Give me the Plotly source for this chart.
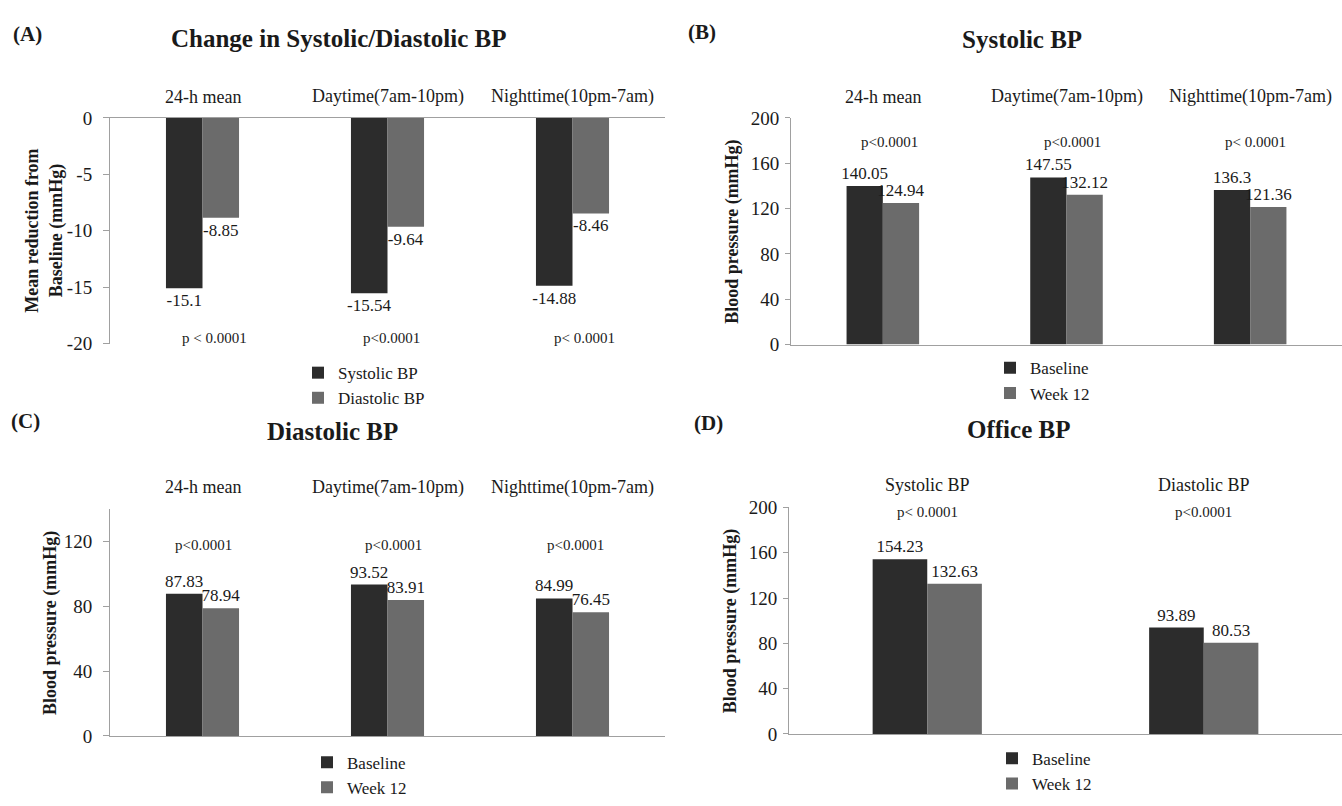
import plotly.graph_objects as go

# ---------------- data ----------------
amb_categories = ["24-h mean", "Daytime(7am-10pm)", "Nighttime(10pm-7am)"]
office_categories = ["Systolic BP", "Diastolic BP"]

change_systolic = [-15.1, -15.54, -14.88]
change_diastolic = [-8.85, -9.64, -8.46]

sbp_baseline = [140.05, 147.55, 136.3]
sbp_week12 = [124.94, 132.12, 121.36]

dbp_baseline = [87.83, 93.52, 84.99]
dbp_week12 = [78.94, 83.91, 76.45]

office_baseline = [154.23, 93.89]
office_week12 = [132.63, 80.53]

p_text_a = ["p < 0.0001", "p<0.0001", "p< 0.0001"]
p_text_b = ["p<0.0001", "p<0.0001", "p< 0.0001"]
p_text_c = ["p<0.0001", "p<0.0001", "p<0.0001"]
p_text_d = ["p< 0.0001", "p<0.0001"]

ticks_a = [0, -5, -10, -15, -20]
ticks_bd = [0, 40, 80, 120, 160, 200]
ticks_c = [0, 40, 80, 120]

# ---------------- style ----------------
W, H = 1342, 806
SERIF = "Liberation Serif, Times New Roman, serif"
TXT = "#1a1a1a"
DARK = "#2c2c2c"
GRAY = "#6b6b6b"
AXC = "#a0a0a0"


def px(v):
    return v / W


def py(v):
    return 1 - v / H


def bar(x, y, name, color, xa, ya, legend):
    return go.Bar(
        x=x, y=y, name=name, marker=dict(color=color, line=dict(width=0)),
        text=[str(v) for v in y], textposition="outside",
        textfont=dict(family=SERIF, size=17, color=TXT),
        constraintext="none", cliponaxis=False,
        xaxis=xa, yaxis=ya, legend=legend,
    )


fig = go.Figure()
fig.add_trace(bar(amb_categories, change_systolic, "Systolic BP", DARK, "x", "y", "legend"))
fig.add_trace(bar(amb_categories, change_diastolic, "Diastolic BP", GRAY, "x", "y", "legend"))
fig.add_trace(bar(amb_categories, sbp_baseline, "Baseline", DARK, "x2", "y2", "legend2"))
fig.add_trace(bar(amb_categories, sbp_week12, "Week 12", GRAY, "x2", "y2", "legend2"))
fig.add_trace(bar(amb_categories, dbp_baseline, "Baseline", DARK, "x3", "y3", "legend3"))
fig.add_trace(bar(amb_categories, dbp_week12, "Week 12", GRAY, "x3", "y3", "legend3"))
fig.add_trace(bar(office_categories, office_baseline, "Baseline", DARK, "x4", "y4", "legend4"))
fig.add_trace(bar(office_categories, office_week12, "Week 12", GRAY, "x4", "y4", "legend4"))

tickfont = dict(family=SERIF, size=19, color=TXT)


def xax(domain, anchor, side="bottom"):
    return dict(domain=domain, anchor=anchor, side=side, showline=True, linecolor=AXC,
                linewidth=1, showticklabels=False, ticks="", showgrid=False,
                zeroline=False, fixedrange=True)


def yax(domain, anchor, rng, tv, ticklen=5, standoff=2):
    return dict(domain=domain, anchor=anchor, range=rng, tickvals=tv,
                ticktext=[str(v) for v in tv], showline=True,
                linecolor=AXC, linewidth=1, ticks="outside", ticklen=ticklen,
                tickcolor=AXC, ticklabelstandoff=standoff,
                tickfont=tickfont, showgrid=False, zeroline=False, fixedrange=True)


dom_xa = [px(110), px(665)]
dom_xb = [px(791), 1.0]
dom_xd = [px(789), 1.0]

fig.update_layout(
    width=W, height=H, margin=dict(l=0, r=0, t=0, b=0),
    paper_bgcolor="white", plot_bgcolor="white",
    barmode="group", bargap=0.605, bargroupgap=0,
    font=dict(family=SERIF, color=TXT),
    xaxis=xax(dom_xa, "y", side="top"),
    yaxis=yax([py(346), py(112)], "x", [-20, 0], ticks_a, ticklen=6, standoff=7),
    xaxis2=xax(dom_xb, "y2"),
    yaxis2=yax([py(347), py(112)], "x2", [0, 200], ticks_bd),
    xaxis3=xax(dom_xa, "y3"),
    yaxis3=yax([py(753), py(518)], "x3", [0, 140], ticks_c, ticklen=6, standoff=7),
    xaxis4=xax(dom_xd, "y4"),
    yaxis4=yax([py(751), py(516)], "x4", [0, 200], ticks_bd),
)

legfont = dict(family=SERIF, size=17, color=TXT)
for key, lx, ly in [("legend", 338, 358), ("legend2", 1030, 353),
                    ("legend3", 347, 762), ("legend4", 1032, 758)]:
    fig.update_layout({key: dict(x=px(lx - 40), y=py(ly), xanchor="left", yanchor="top",
                                 orientation="v", font=legfont, bgcolor="rgba(0,0,0,0)",
                                 itemclick=False, itemdoubleclick=False,
                                 tracegroupgap=0)})

ann = []


def add_text(text, x, y, size, bold=False, xref="paper", yref="paper", angle=0,
             xshift=0, xanchor="center"):
    ann.append(dict(text=f"<b>{text}</b>" if bold else text, x=x, y=y, xref=xref,
                    yref=yref, showarrow=False, textangle=angle, xshift=xshift,
                    xanchor=xanchor, yanchor="middle",
                    font=dict(family=SERIF, size=size, color=TXT)))


# panel letters and titles
add_text("(A)", px(11), py(25), 21, bold=True, xanchor="left")
add_text("(B)", px(686), py(23), 21, bold=True, xanchor="left")
add_text("(C)", px(9), py(426), 21, bold=True, xanchor="left")
add_text("(D)", px(692), py(428), 21, bold=True, xanchor="left")
add_text("Change in Systolic/Diastolic BP", px(338), py(30), 25, bold=True)
add_text("Systolic BP", px(1022), py(31), 25, bold=True)
add_text("Diastolic BP", px(332), py(437), 25, bold=True)
add_text("Office BP", px(1018), py(435), 25, bold=True)

# axis titles
add_text("Mean reduction from<br>Baseline (mmHg)", px(44), py(229), 18, bold=True, angle=-90)
add_text("Blood pressure (mmHg)", px(733), py(230), 18, bold=True, angle=-90)
add_text("Blood pressure (mmHg)", px(50), py(636), 18, bold=True, angle=-90)
add_text("Blood pressure (mmHg)", px(730), py(634), 18, bold=True, angle=-90)

# category labels above each plot
for c in amb_categories:
    add_text(c, c, py(90), 18, xref="x")
    add_text(c, c, py(90), 18, xref="x2")
    add_text(c, c, py(495), 18, xref="x3")
for c in office_categories:
    add_text(c, c, py(493), 18, xref="x4")

# p-value labels
for c, t, s in zip(amb_categories, p_text_a, [12, 4, 12]):
    add_text(t, c, -19.5, 15, xref="x", yref="y", xshift=s)
for c, t, s in zip(amb_categories, p_text_b, [7, 6, 5]):
    add_text(t, c, 178.7, 15, xref="x2", yref="y2", xshift=s)
for c, t, s in zip(amb_categories, p_text_c, [1, 6, 3]):
    add_text(t, c, 117.9, 15, xref="x3", yref="y3", xshift=s)
for c, t in zip(office_categories, p_text_d):
    add_text(t, c, 195.7, 15, xref="x4", yref="y4")

fig.update_layout(annotations=ann)

fig.write_html(
    "out.html",
    config={"displayModeBar": False},
    post_script="document.body.style.margin='0';document.body.style.overflow='hidden';",
)
